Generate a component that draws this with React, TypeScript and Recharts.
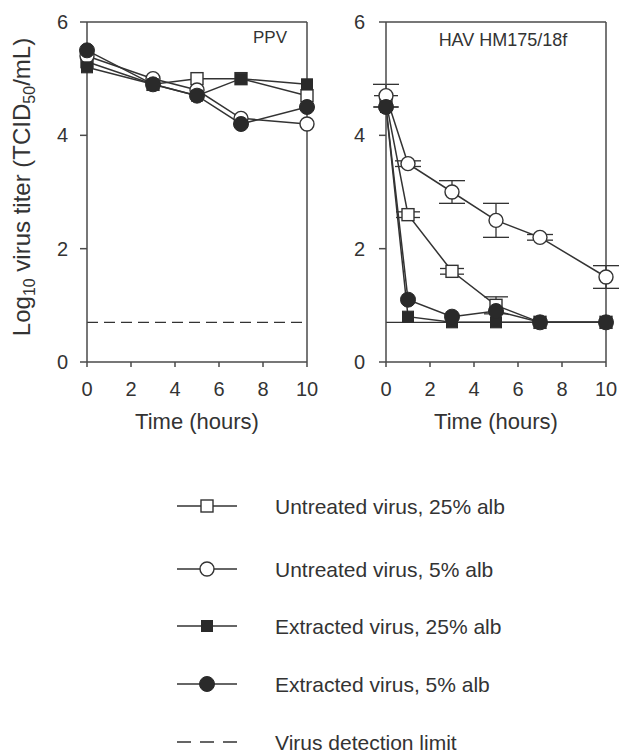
import React from 'react';
import {
  LineChart,
  Line,
  XAxis,
  YAxis,
  ReferenceLine,
  ErrorBar,
} from 'recharts';

// PPV panel
const ppvTime = [0, 3, 5, 7, 10];
const ppvUntreated25 = [5.3, 4.9, 5.0, 5.0, 4.7];
const ppvUntreated5 = [5.4, 5.0, 4.8, 4.3, 4.2];
const ppvExtracted25 = [5.2, 4.9, 4.7, 5.0, 4.9];
const ppvExtracted5 = [5.5, 4.9, 4.7, 4.2, 4.5];

// HAV HM175/18f panel
const havTime = [0, 1, 3, 5, 7, 10];
const havUntreated25 = [4.6, 2.6, 1.6, 1.0, 0.7, 0.7];
const havUntreated25Err = [0.1, 0.05, 0.05, 0.15, 0, 0];
const havUntreated5 = [4.7, 3.5, 3.0, 2.5, 2.2, 1.5];
const havUntreated5Err = [0.2, 0.05, 0.2, 0.3, 0.05, 0.2];
const havExtracted25 = [4.5, 0.8, 0.7, 0.7, 0.7, 0.7];
const havExtracted5 = [4.5, 1.1, 0.8, 0.9, 0.7, 0.7];

const detectionLimit = 0.7;
const xTicks = [0, 2, 4, 6, 8, 10];
const yTicks = [0, 2, 4, 6];

const legendItems = [
  { label: 'Untreated virus, 25% alb', marker: 'openSquare' },
  { label: 'Untreated virus, 5% alb', marker: 'openCircle' },
  { label: 'Extracted virus, 25% alb', marker: 'filledSquare' },
  { label: 'Extracted virus, 5% alb', marker: 'filledCircle' },
  { label: 'Virus detection limit', marker: 'dashed' },
];

const ppvRows = ppvTime.map((t, i) => ({
  t,
  u25: ppvUntreated25[i],
  u5: ppvUntreated5[i],
  e25: ppvExtracted25[i],
  e5: ppvExtracted5[i],
}));

const havRows = havTime.map((t, i) => ({
  t,
  u25: havUntreated25[i],
  u25Err: havUntreated25Err[i],
  u5: havUntreated5[i],
  u5Err: havUntreated5Err[i],
  e25: havExtracted25[i],
  e5: havExtracted5[i],
}));

const INK = '#333';
const AXIS = '#4a4a4a';
const FONT = '"Liberation Sans", Arial, Helvetica, sans-serif';

const openSquare = (props: any) => (
  <rect key={`os-${props.index}`} x={props.cx - 6} y={props.cy - 6} width={12} height={12}
    fill="#fff" stroke={INK} strokeWidth={1.4} />
);
const openCircle = (props: any) => (
  <circle key={`oc-${props.index}`} cx={props.cx} cy={props.cy} r={7}
    fill="#fff" stroke={INK} strokeWidth={1.4} />
);
const filledSquare = (props: any) => (
  <rect key={`fs-${props.index}`} x={props.cx - 5.5} y={props.cy - 5.5} width={11} height={11}
    fill="#2a2a2a" stroke="#2a2a2a" strokeWidth={1} />
);
const filledCircle = (props: any) => (
  <circle key={`fc-${props.index}`} cx={props.cx} cy={props.cy} r={7.5}
    fill="#2a2a2a" stroke="#2a2a2a" strokeWidth={1} />
);

const YLabel = () => (
  <text transform="translate(30,187) rotate(-90)" textAnchor="middle" fontSize={24}
    fill={INK} fontFamily={FONT}>
    Log<tspan fontSize={16} dy={5}>10</tspan>
    <tspan dy={-5}> virus titer (TCID</tspan>
    <tspan fontSize={16} dy={5}>50</tspan>
    <tspan dy={-5}>/mL)</tspan>
  </text>
);

const xLabel = (props: any) => {
  const vb = props.viewBox || {};
  return (
    <text x={vb.x + vb.width / 2} y={429} textAnchor="middle" fontSize={22}
      fill={INK} fontFamily={FONT}>
      Time (hours)
    </text>
  );
};

const XTick = (props: any) => (
  <text x={props.x} y={props.y} dy={14.2} textAnchor="middle" fontSize={20}
    fill={INK} fontFamily={FONT}>
    {props.payload.value}
  </text>
);

const YTick = (props: any) => (
  <text x={props.x} y={props.y} dy={7.1} textAnchor="end" fontSize={20}
    fill={INK} fontFamily={FONT}>
    {props.payload.value}
  </text>
);

const Panel = ({ rows, title, titleX, titleAnchor, dashedLimit, showErrors, yTickMargin }: any) => (
  <LineChart width={320} height={440} data={rows}
    margin={{ top: 22, right: 13, bottom: 18, left: 27 }}>
    <XAxis type="number" dataKey="t" domain={[0, 10]} ticks={xTicks} height={60}
      stroke={AXIS} strokeWidth={1.5} tickSize={5} tickMargin={15} tick={<XTick />}
      tickLine={{ stroke: AXIS, strokeWidth: 1.5 }}
      label={{ content: xLabel }} />
    <YAxis type="number" domain={[0, 6]} ticks={yTicks} width={60}
      stroke={AXIS} strokeWidth={1.5} tickSize={7} tickMargin={yTickMargin} tick={<YTick />}
      tickLine={{ stroke: AXIS, strokeWidth: 1.5 }}
      label={dashedLimit ? <YLabel /> : undefined} />
    <ReferenceLine y={6} stroke={AXIS} strokeWidth={1.5}
      label={{
        content: () => (
          <text x={titleX} y={title === 'PPV' ? 43 : 46} textAnchor={titleAnchor}
            fontSize={title === 'PPV' ? 17 : 18} fill={INK} fontFamily={FONT}>
            {title}
          </text>
        ),
      }} />
    <ReferenceLine x={10} stroke={AXIS} strokeWidth={1.5} />
    <ReferenceLine y={detectionLimit} stroke={INK} strokeWidth={1.3}
      strokeDasharray={dashedLimit ? '11 6' : undefined} />
    <Line dataKey="u25" stroke={INK} strokeWidth={1.5} dot={openSquare}
      isAnimationActive={false}>
      {showErrors && <ErrorBar dataKey="u25Err" width={12} stroke={INK} strokeWidth={1.3} direction="y" />}
    </Line>
    <Line dataKey="u5" stroke={INK} strokeWidth={1.5} dot={openCircle}
      isAnimationActive={false}>
      {showErrors && <ErrorBar dataKey="u5Err" width={13} stroke={INK} strokeWidth={1.3} direction="y" />}
    </Line>
    <Line dataKey="e25" stroke={INK} strokeWidth={1.5} dot={filledSquare}
      isAnimationActive={false} />
    <Line dataKey="e5" stroke={INK} strokeWidth={1.5} dot={filledCircle}
      isAnimationActive={false} />
  </LineChart>
);

const LegendMarker = ({ kind, y }: { kind: string; y: number }) => {
  const cx = 207;
  if (kind === 'dashed') {
    return <line x1={177} x2={237} y1={y} y2={y} stroke={INK} strokeWidth={1.4} strokeDasharray="14 9" />;
  }
  return (
    <g>
      <line x1={177} x2={237} y1={y} y2={y} stroke={INK} strokeWidth={1.4} />
      {kind === 'openSquare' && openSquare({ cx, cy: y, index: 0 })}
      {kind === 'openCircle' && openCircle({ cx, cy: y, index: 0 })}
      {kind === 'filledSquare' && filledSquare({ cx, cy: y, index: 0 })}
      {kind === 'filledCircle' && filledCircle({ cx, cy: y, index: 0 })}
    </g>
  );
};

const legendRowY = [506, 569, 626, 684, 742];

export default function App() {
  return (
    <div style={{ position: 'absolute', left: 0, top: 0, width: 620, height: 752, background: '#fff' }}>
      <div style={{ position: 'absolute', left: 0, top: 0 }}>
        <Panel rows={ppvRows} title="PPV" titleX={287} titleAnchor="end" dashedLimit yTickMargin={12} />
      </div>
      <div style={{ position: 'absolute', left: 299, top: 0 }}>
        <Panel rows={havRows} title="HAV HM175/18f" titleX={204} titleAnchor="middle" showErrors yTickMargin={14} />
      </div>
      <svg width={620} height={300} style={{ position: 'absolute', left: 0, top: 460 }}
        viewBox="0 460 620 300">
        {legendItems.map((item, i) => (
          <g key={item.label}>
            <LegendMarker kind={item.marker} y={legendRowY[i]} />
            <text x={275} y={legendRowY[i]} dominantBaseline="central" fontSize={21}
              fill={INK} fontFamily={FONT}>
              {item.label}
            </text>
          </g>
        ))}
      </svg>
    </div>
  );
}
